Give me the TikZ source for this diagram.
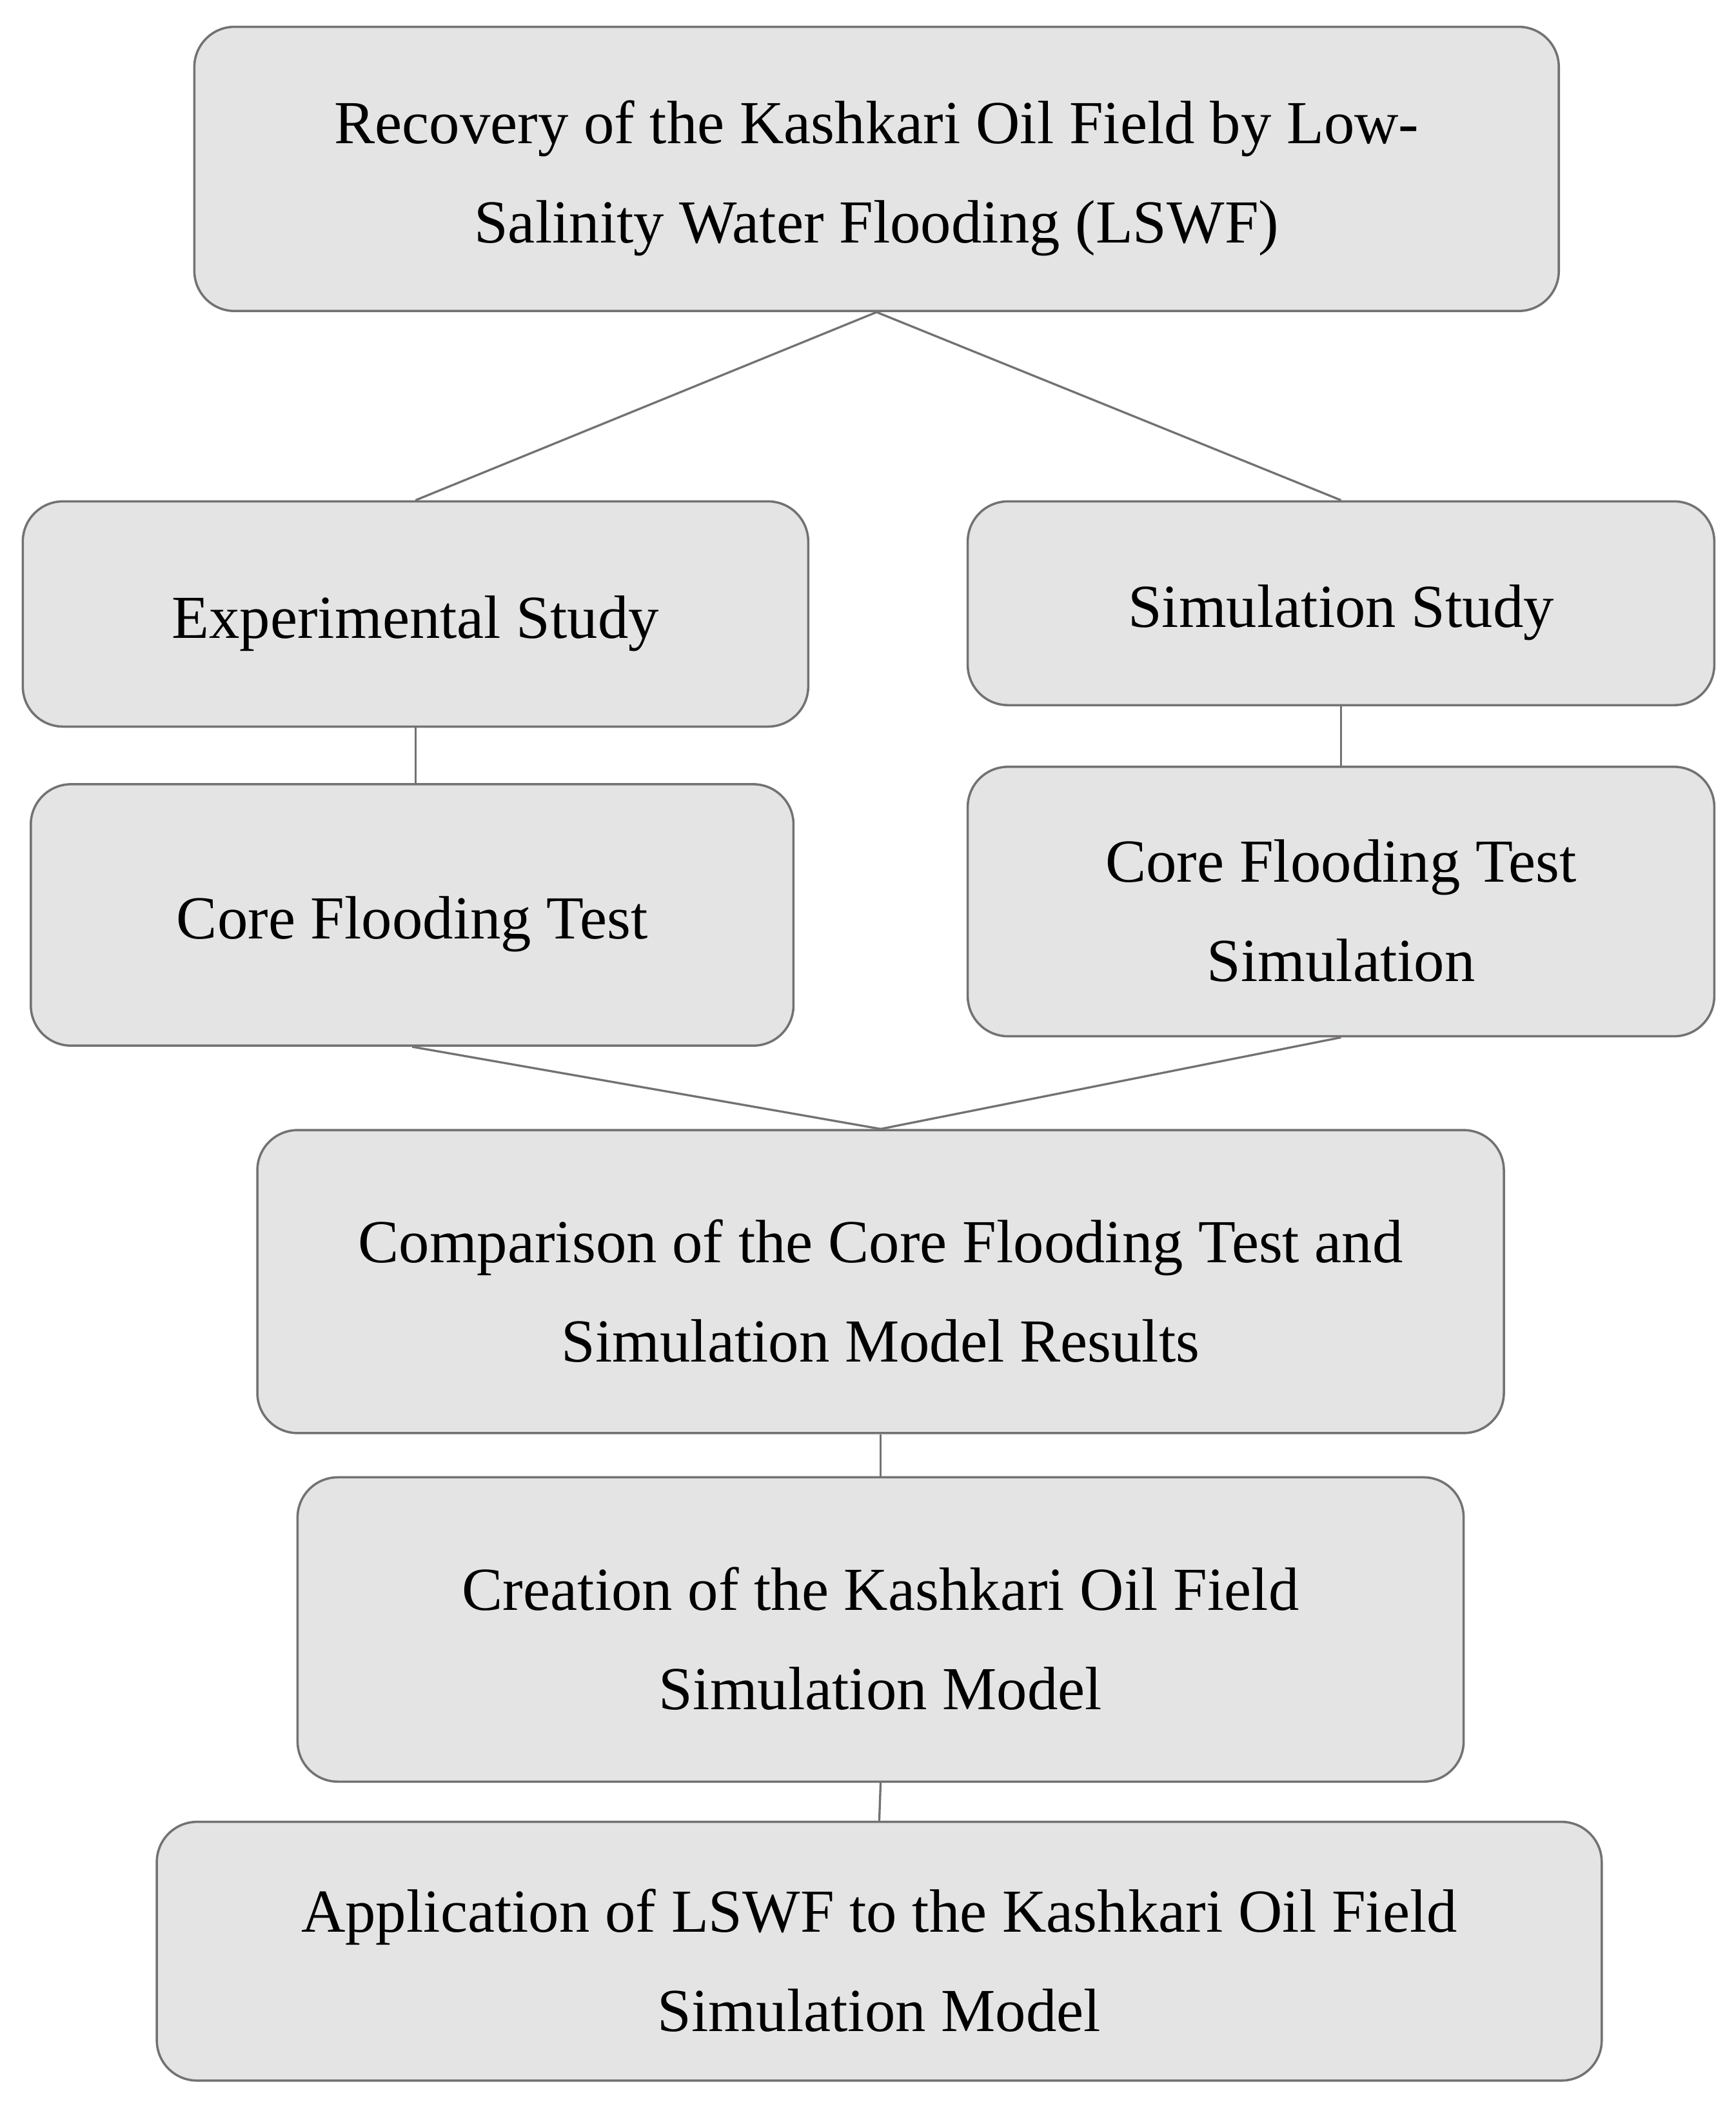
\documentclass[tikz,border=0pt]{standalone}
\usepackage{fontspec}
\setmainfont{Liberation Serif}
\definecolor{edge}{HTML}{757171}
\definecolor{boxfill}{HTML}{E4E4E4}
\begin{document}
\begin{tikzpicture}[x=0.5pt,y=-0.5pt,
  box/.style={draw=edge,fill=boxfill,line width=0.85pt,rounded corners=15pt,inner sep=0pt},
  lbl/.style={align=center,inner sep=0pt,yshift=-3.5pt,font=\fontsize{22.8}{37}\selectfont},
  link/.style={draw=edge,line width=0.8pt}]
\useasboundingbox (0,0) rectangle (1295,1568);
\node[box,minimum width=509pt,minimum height=106pt] (top) at (654,126) {};
\node[box,minimum width=293pt,minimum height=84pt] (exp) at (310,458) {};
\node[box,minimum width=278.5pt,minimum height=76pt] (sim) at (1000.5,450) {};
\node[box,minimum width=284.5pt,minimum height=97.5pt] (cft) at (307.5,682.5) {};
\node[box,minimum width=278.5pt,minimum height=100.5pt] (cfts) at (1000.5,672.5) {};
\node[box,minimum width=465pt,minimum height=113pt] (comp) at (657,956) {};
\node[box,minimum width=435pt,minimum height=113.5pt] (creat) at (657,1215.5) {};
\node[box,minimum width=539pt,minimum height=96.5pt] (appl) at (656,1455.5) {};
\node[lbl] (topt) at (top) {Recovery of the Kashkari Oil Field by Low-\\Salinity Water Flooding (LSWF)};
\node[lbl] (expt) at (exp) {Experimental Study};
\node[lbl] (simt) at (sim) {Simulation Study};
\node[lbl] (cftt) at (cft) {Core Flooding Test};
\node[lbl] (cftst) at (cfts) {Core Flooding Test\\Simulation};
\node[lbl] (compt) at (comp) {Comparison of the Core Flooding Test and\\Simulation Model Results};
\node[lbl] (creatt) at (creat) {Creation of the Kashkari Oil Field\\Simulation Model};
\node[lbl] (applt) at (appl) {Application of LSWF to the Kashkari Oil Field\\Simulation Model};
\draw[link] (top.south) -- (exp.north);
\draw[link] (top.south) -- (sim.north);
\draw[link] (exp.south) -- (exp.south |- cft.north);
\draw[link] (sim.south) -- (sim.south |- cfts.north);
\draw[link] (cft.south) -- (comp.north);
\draw[link] (cfts.south) -- (comp.north);
\draw[link] (comp.south) -- (creat.north);
\draw[link] (creat.south) -- (appl.north);
\end{tikzpicture}
\end{document}
